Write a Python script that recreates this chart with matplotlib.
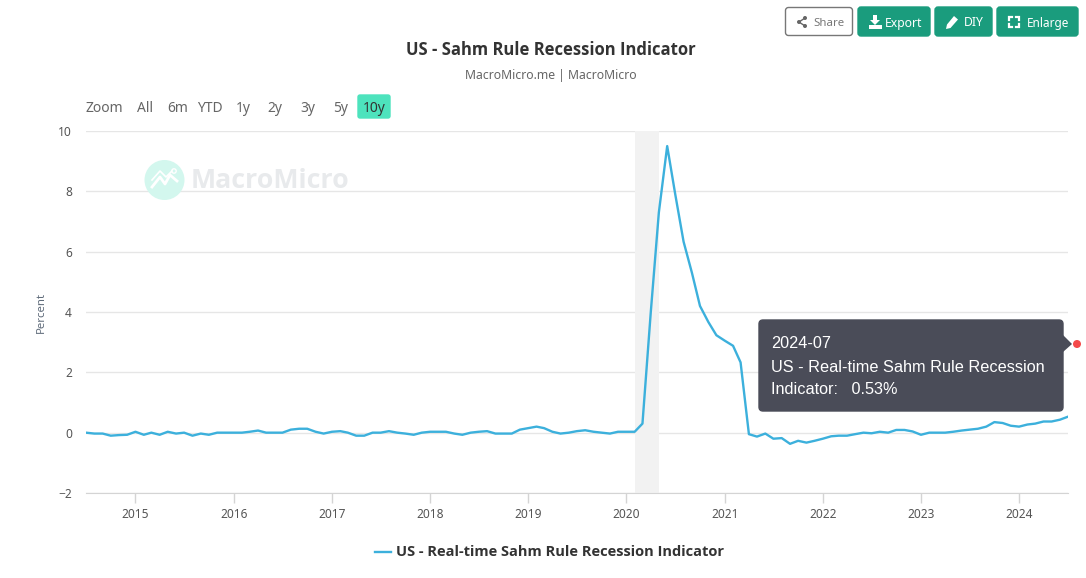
import pandas as pd
import matplotlib
matplotlib.use("Agg")
import matplotlib.pyplot as plt
import matplotlib.dates as mdates
from matplotlib.patches import FancyBboxPatch, Circle, Polygon, Rectangle

W, H = 1086, 578
UI_FONT = ["Noto Sans", "DejaVu Sans"]
BOLD_FONT = ["Open Sans", "DejaVu Sans"]
TIP_FONT = ["Liberation Sans", "DejaVu Sans"]

start_month = "2014-07-01"
sahm_values = [
    0.0, -0.03, -0.03, -0.1, -0.08, -0.07,
    0.03, -0.07, 0.0, -0.07, 0.03, -0.03, 0.0, -0.1, -0.03, -0.07, 0.0, 0.0,
    0.0, 0.0, 0.03, 0.07, 0.0, 0.0, 0.0, 0.1, 0.13, 0.13, 0.03, -0.03,
    0.03, 0.05, 0.0, -0.1, -0.1, 0.0, 0.0, 0.05, 0.0, -0.03, -0.07, 0.0,
    0.03, 0.03, 0.03, -0.03, -0.07, 0.0, 0.03, 0.05, -0.03, -0.03, -0.03, 0.1,
    0.15, 0.2, 0.15, 0.03, -0.03, 0.0, 0.05, 0.08, 0.03, 0.0, -0.03, 0.03,
    0.03, 0.03, 0.3, 4.0, 7.3, 9.5, 7.9, 6.33, 5.3, 4.2, 3.67, 3.23,
    3.05, 2.88, 2.33, -0.05, -0.13, -0.03, -0.2, -0.18, -0.37, -0.27, -0.33, -0.27,
    -0.2, -0.12, -0.1, -0.1, -0.05, 0.0, -0.02, 0.03, 0.0, 0.09, 0.09, 0.04,
    -0.07, 0.0, 0.0, 0.0, 0.03, 0.07, 0.1, 0.13, 0.2, 0.35, 0.32, 0.23,
    0.2, 0.27, 0.3, 0.37, 0.37, 0.43, 0.53,
]
recession = ("2020-02-01", "2020-05-01")
y_ticks = [-2, 0, 2, 4, 6, 8, 10]
year_ticks = list(range(2015, 2025))
range_buttons = ["All", "6m", "YTD", "1y", "2y", "3y", "5y", "10y"]
range_button_x = [145, 178, 210, 243, 275, 308, 341, 374]

months = pd.date_range(start_month, periods=len(sahm_values), freq="MS")

fig = plt.figure(figsize=(W / 100, H / 100), dpi=100, facecolor="white")

# plot area placed in pixels
left, right, top, bottom = 86, 1068, 131, 493
ax = fig.add_axes([left / W, 1 - bottom / H, (right - left) / W, (bottom - top) / H])
ax.patch.set_alpha(0)
ax.plot(months, sahm_values, color="#3cb0dc", lw=1.7, solid_joinstyle="round", zorder=3)
ax.axvspan(pd.Timestamp(recession[0]), pd.Timestamp(recession[1]), color="#f2f2f2", lw=0, zorder=2)

ax.set_xlim(months[0], months[-1])
ax.set_ylim(-2, 10)
ax.set_yticks(y_ticks)
ax.set_xticks([pd.Timestamp(f"{y}-01-01") for y in year_ticks])
ax.xaxis.set_major_formatter(mdates.DateFormatter("%Y"))
ax.grid(axis="y", color="#e6e6e6", lw=1, zorder=1)
ax.set_axisbelow(True)
for name in ["top", "left", "right"]:
    ax.spines[name].set_visible(False)
ax.spines["bottom"].set_color("#d4d4d4")
ax.tick_params(axis="x", length=7, width=1, color="#d4d4d4", labelcolor="#555555",
               labelsize=8.6, pad=4)
ax.tick_params(axis="y", length=0, labelcolor="#555555", labelsize=8.6, pad=10)
for lab in ax.get_xticklabels() + ax.get_yticklabels():
    lab.set_fontfamily(UI_FONT)
ax.set_ylabel("Percent", fontsize=8.2, color="#5f6b7a", family=UI_FONT, labelpad=8)

# overlay in pixel coordinates for page furniture
ov = fig.add_axes([0, 0, 1, 1], zorder=5)
ov.set_xlim(0, W)
ov.set_ylim(H, 0)
ov.axis("off")


def rounded(x0, y0, w, h, face, edge=None, r=3, z=2):
    ov.add_patch(FancyBboxPatch((x0 + r, y0 + r), w - 2 * r, h - 2 * r,
                                boxstyle=f"round,pad={r}", fc=face,
                                ec=edge if edge else face, lw=1, zorder=z))


ov.text(550.5, 50, "US - Sahm Rule Recession Indicator", ha="center", va="center",
        fontsize=11.95, fontweight="bold", color="#333333", family=BOLD_FONT)
ov.text(550.5, 75, "MacroMicro.me | MacroMicro", ha="center", va="center",
        fontsize=8.8, color="#666666", family=UI_FONT)

# top buttons
green = "#1a9c7d"
rounded(785.5, 7.5, 67, 28, "white", "#777777")
rounded(858, 7, 72, 29, green)
rounded(935, 7, 57, 29, green)
rounded(997, 7, 81, 29, green)
ov.text(828.5, 23, "Share", ha="center", va="center", fontsize=8.2, color="#777777", family=UI_FONT)
ov.text(904, 23, "Export", ha="center", va="center", fontsize=8.8, color="white", family=UI_FONT)
ov.text(973.5, 23, "DIY", ha="center", va="center", fontsize=8.8, color="white", family=UI_FONT)
ov.text(1048.5, 23, "Enlarge", ha="center", va="center", fontsize=8.5, color="white", family=UI_FONT)

# share icon
ov.plot([805, 799, 805], [18, 22, 26], color="#666666", lw=1, zorder=3)
for cx, cy in [(805, 18), (799, 22), (805, 26)]:
    ov.add_patch(Circle((cx, cy), 2, fc="#666666", ec="none", zorder=3))
# export icon
ov.add_patch(Polygon([(873, 15), (877, 15), (877, 20), (880, 20), (875, 25), (870, 20), (873, 20)],
                     fc="white", ec="none", zorder=3))
ov.add_patch(Rectangle((868.5, 25), 13, 3.5, fc="white", ec="none", zorder=3))
# pencil icon
ov.add_patch(Polygon([(946, 29), (947, 24.5), (954, 16), (958, 19.5), (950.5, 28)],
                     fc="white", ec="none", zorder=3))
# enlarge icon
for xs, ys in [([1009, 1009, 1012], [20, 17, 17]), ([1016, 1019, 1019], [17, 17, 20]),
               ([1009, 1009, 1012], [24, 27, 27]), ([1016, 1019, 1019], [27, 27, 24])]:
    ov.plot(xs, ys, color="white", lw=1.6, zorder=3, solid_joinstyle="miter")

# range selector
ov.text(86, 108, "Zoom", ha="left", va="center", fontsize=10, color="#666666", family=UI_FONT)
rounded(358, 95, 32, 23, "#4de3bd", r=2)
for label, bx in zip(range_buttons, range_button_x):
    col = "#333333" if label == "10y" else "#666666"
    ov.text(bx, 108, label, ha="center", va="center", fontsize=10, color=col, family=UI_FONT)

# watermark
ov.add_patch(Circle((164.5, 180), 20, fc="#d3f7ee", ec="none", zorder=1))
ov.plot([152, 160, 165, 170, 177], [187, 177, 184, 175, 181], color="white", lw=2, zorder=1.5)
ov.plot([152, 160, 166, 172], [180, 171, 177, 171], color="white", lw=1.2, zorder=1.5)
ov.add_patch(Circle((174, 171), 2.2, fc="none", ec="white", lw=1, zorder=1.5))
ov.text(191, 181, "MacroMicro", ha="left", va="center", fontsize=19.3, fontweight="bold",
        color="#e8eaec", family=BOLD_FONT, zorder=1)

# tooltip
rounded(759, 320, 304, 91, "#4a4c58", r=4, z=6)
ov.add_patch(Polygon([(1063, 335), (1072, 344), (1063, 352)], fc="#4a4c58", ec="none", zorder=6))
ov.add_patch(Circle((1077, 344), 4, fc="#f44a4a", ec="none", zorder=6))
tip_lines = ["2024-07", "US - Real-time Sahm Rule Recession", "Indicator:   0.53%"]
for txt, ty in zip(tip_lines, [344, 367, 390]):
    ov.text(771, ty, txt, ha="left", va="center", fontsize=11.7, color="white",
            family=TIP_FONT, zorder=7)

# legend
ov.plot([375, 391], [552, 552], color="#3cb0dc", lw=1.7, zorder=3)
ov.text(396.5, 552, "US - Real-time Sahm Rule Recession Indicator", ha="left", va="center",
        fontsize=10.55, fontweight="bold", color="#333333", family=BOLD_FONT)

fig.savefig("out.png", dpi=100)
